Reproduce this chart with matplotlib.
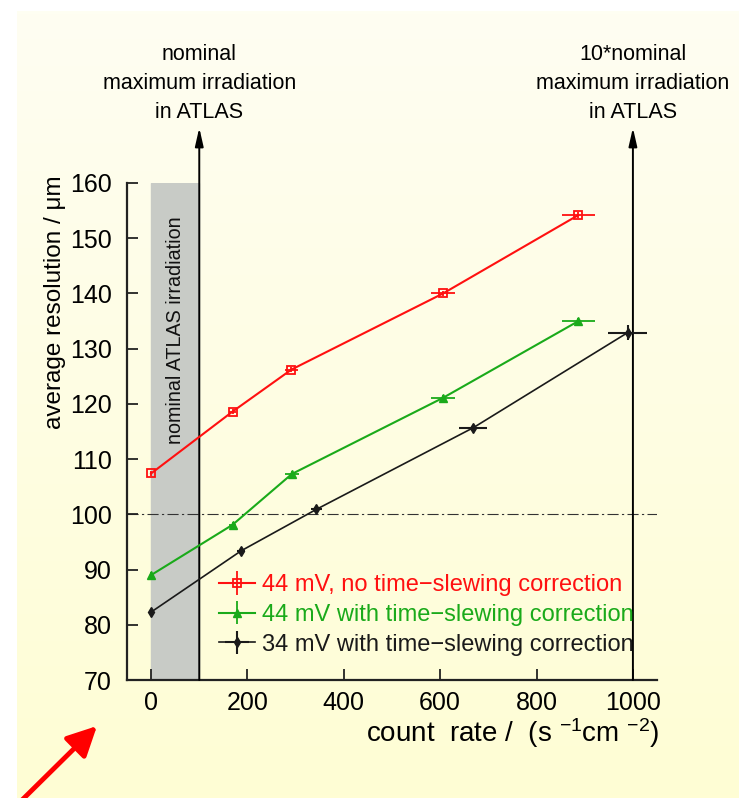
import matplotlib.pyplot as plt
import numpy as np

plt.rcParams['font.family'] = ['Liberation Sans', 'DejaVu Sans']
plt.rcParams['mathtext.default'] = 'regular'

# average resolution vs. count rate for three threshold / correction settings
rate_red = [0, 169, 291, 606, 887]
res_red = [107.4, 118.6, 126.2, 140.0, 154.2]
xerr_red = [2, 8, 14, 25, 35]

rate_green = [0, 169, 292, 606, 887]
res_green = [89.0, 98.1, 107.3, 121.1, 135.0]
xerr_green = [2, 8, 14, 25, 35]

rate_black = [0, 187, 343, 669, 989]
res_black = [82.3, 93.4, 100.9, 115.7, 132.9]
xerr_black = [2, 8, 12, 29, 41]
yerr_black = [0.5, 0.5, 0.5, 0.5, 1.3]

labels = ['44 mV, no time\u2212slewing correction',
          '44 mV with time\u2212slewing correction',
          '34 mV with time\u2212slewing correction']

W, H = 739, 798
fig = plt.figure(figsize=(W / 100, H / 100), dpi=100)
fig.patch.set_facecolor('white')

# pale yellow slide background
bg = fig.add_axes([17 / W, 0, 1 - 17 / W, 1 - 11 / H], zorder=-5)
grad = np.linspace(0, 1, 256)[:, None]
c_top = np.array([254, 254, 242]) / 255
c_bot = np.array([255, 253, 212]) / 255
img = c_top[None, None, :] * (1 - grad[..., None]) + c_bot[None, None, :] * grad[..., None]
bg.imshow(img, aspect='auto', extent=[0, 1, 0, 1])
bg.set_axis_off()

ax = fig.add_axes([127 / W, 1 - 680 / H, 530 / W, 497 / H])
ax.set_facecolor('none')
ax.set_xlim(-50, 1050)
ax.set_ylim(70, 160)

ax.axvspan(0, 100, color='#c8cbc6', zorder=0)
ax.text(50, 154, 'nominal ATLAS irradiation', rotation=90, ha='center', va='top',
        fontsize=14.2, color='#111111')

ax.axhline(100, color='#333333', lw=0.8, ls=(0, (10, 3, 2, 3)), zorder=1)

for xpos, txt in [(100, 'nominal\nmaximum irradiation\nin ATLAS'),
                  (1000, '10*nominal\nmaximum irradiation\nin ATLAS')]:
    ax.annotate('', xy=(xpos, 170), xytext=(xpos, 70), annotation_clip=False,
                arrowprops=dict(arrowstyle='-|>,head_length=1.1,head_width=0.25',
                                color='black', lw=1.4, shrinkA=0, shrinkB=0))
    ax.text(xpos, 178.1, txt, ha='center', va='center', fontsize=15.5,
            linespacing=1.5, clip_on=False)

ax.errorbar(rate_red, res_red, xerr=xerr_red, yerr=0.5, color='#ff1010', lw=1.5,
            marker='s', ms=6, mfc='none', mew=1.3, elinewidth=1.3, capsize=0,
            label=labels[0], zorder=3)
ax.errorbar(rate_green, res_green, xerr=xerr_green, yerr=0.5, color='#1aaa1a', lw=1.5,
            marker='^', ms=6, elinewidth=1.3, capsize=0, label=labels[1], zorder=3)
ax.errorbar(rate_black, res_black, xerr=xerr_black, yerr=yerr_black, color='#1a1a1a', lw=1.2,
            marker='d', ms=5, elinewidth=1.5, capsize=0, label=labels[2], zorder=3)

ax.legend(loc='lower left', bbox_to_anchor=(0.155, 0.03), frameon=False, fontsize=17,
          handlelength=1.55, handletextpad=0.3, labelspacing=0.33, labelcolor='linecolor',
          borderaxespad=0)

ax.set_xticks([0, 200, 400, 600, 800, 1000])
ax.set_yticks(np.arange(70, 161, 10))
ax.tick_params(direction='in', length=8, width=1.3, labelsize=18, color='#222222')
ax.tick_params(axis='x', pad=8)
ax.tick_params(axis='y', pad=11)
for side in ['top', 'right']:
    ax.spines[side].set_visible(False)
for side in ['left', 'bottom']:
    ax.spines[side].set_linewidth(1.6)
    ax.spines[side].set_color('#222222')

ax.set_ylabel('average resolution / \u03bcm', fontsize=17.5, loc='top')
ax.yaxis.set_label_coords(-0.115, 1.016)
ax.set_xlabel('count  rate /  (s $^{-1}$cm $^{-2}$)', fontsize=20, loc='right')
ax.xaxis.set_label_coords(1.004, -0.072)

# red pointer in the lower left corner
fig.patches.append(plt.matplotlib.patches.FancyArrowPatch(
    (20 / W, -4 / H), (97 / W, 1 - 726 / H), transform=fig.transFigure,
    arrowstyle='-|>,head_length=12,head_width=6', mutation_scale=1.5,
    color='#ff0000', lw=3.5, shrinkA=0, shrinkB=0))

fig.savefig('out.png', dpi=100)
